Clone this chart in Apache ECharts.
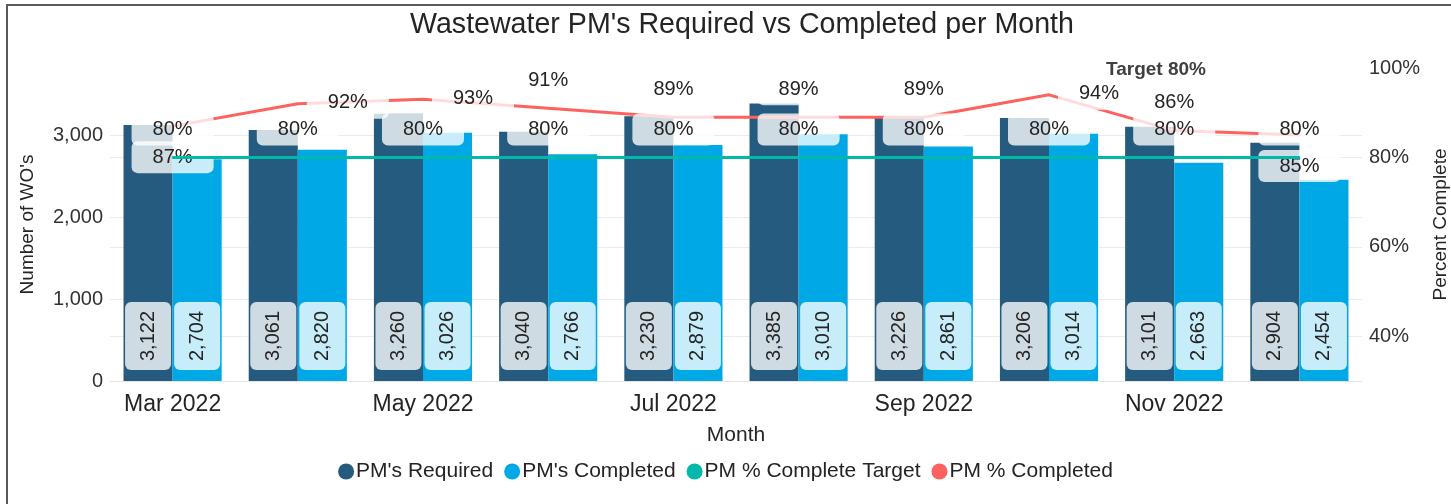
<!DOCTYPE html>
<html>
<head>
<meta charset="utf-8">
<title>Wastewater PM's Required vs Completed per Month</title>
<script src="https://cdn.jsdelivr.net/npm/echarts@6/dist/echarts.min.js"></script>
<style>
  html, body { margin: 0; padding: 0; background: #fff; }
  #frame {
    position: absolute;
    left: 6px; top: 4px;
    width: 1445px; height: 500px;
    border-top: 2px solid #5a5a5a;
    border-left: 2px solid #5a5a5a;
  }
  #chart { position: absolute; left: 0; top: 0; width: 1451px; height: 504px; }
</style>
</head>
<body>
<div id="frame"></div>
<div id="chart"></div>
<script>
// 数据
const months = ['Mar 2022', 'Apr 2022', 'May 2022', 'Jun 2022', 'Jul 2022',
  'Aug 2022', 'Sep 2022', 'Oct 2022', 'Nov 2022', 'Dec 2022']
const pmRequired = [3122, 3061, 3260, 3040, 3230, 3385, 3226, 3206, 3101, 2904]
const pmCompleted = [2704, 2820, 3026, 2766, 2879, 3010, 2861, 3014, 2663, 2454]
const pctTarget = [80, 80, 80, 80, 80, 80, 80, 80, 80, 80]
const pctCompleted = [87, 92, 93, 91, 89, 89, 89, 94, 86, 85]

const FONT = '"Liberation Sans", Arial, sans-serif'
const TEXT = '#252423'
const GRID = '#ebebeb'
const NONE = 'rgba(0,0,0,0)'

// 标签框样式
const boxLabel = {
  show: true,
  fontFamily: FONT,
  fontSize: 20,
  color: TEXT,
  backgroundColor: 'rgba(255,255,255,0.78)',
  borderRadius: 6,
  padding: [6, 21],
  position: 'top',
  distance: 11,
  formatter: (p) => p.value + '%'
}

const barLabel = {
  show: true,
  position: 'insideBottom',
  distance: 11,
  rotate: 90,
  align: 'left',
  verticalAlign: 'middle',
  fontFamily: FONT,
  fontSize: 20,
  color: TEXT,
  backgroundColor: 'rgba(255,255,255,0.78)',
  borderRadius: 6,
  padding: [13, 9],
  formatter: (p) => p.value.toLocaleString('en-US')
}

// 红线标签的位置微调（避让）
const shiftRight = { offset: [50, 27] }
const below = { position: 'bottom', distance: 14 }
const redLabelTweak = { 0: below, 1: shiftRight, 2: shiftRight, 7: shiftRight, 9: below }

const redData = pctCompleted.map((v, i) => {
  const t = redLabelTweak[i]
  return t ? { value: v, label: t } : v
})

const chart = echarts.init(document.getElementById('chart'), null, { renderer: 'canvas' })

chart.setOption({
  animation: false,
  title: {
    text: "Wastewater PM's Required vs Completed per Month",
    left: 405,
    top: 6,
    textStyle: { fontFamily: FONT, fontSize: 28.6, fontWeight: 'normal', color: TEXT }
  },
  legend: {
    bottom: 17,
    left: 'center',
    icon: 'circle',
    itemWidth: 16,
    itemHeight: 16,
    itemGap: 11,
    textStyle: { fontFamily: FONT, fontSize: 21, color: TEXT, padding: [0, 0, 0, -3] },
    data: ["PM's Required", "PM's Completed", 'PM % Complete Target', 'PM % Completed']
  },
  graphic: [{
    type: 'text',
    left: 1106,
    top: 60,
    style: { text: 'Target 80%', font: 'bold 19px ' + FONT, fill: '#404040' }
  }],
  grid: { left: 110, right: 89, top: 68, bottom: 123, outerBoundsMode: 'none' },
  xAxis: {
    type: 'category',
    data: months,
    name: 'Month',
    nameLocation: 'middle',
    nameGap: 44,
    nameTextStyle: { fontFamily: FONT, fontSize: 21, color: TEXT },
    axisTick: { show: false },
    axisLine: { lineStyle: { color: '#e4e4e4' } },
    axisLabel: { interval: 1, margin: 12, fontFamily: FONT, fontSize: 23, color: TEXT }
  },
  yAxis: [
    {
      type: 'value',
      min: 0,
      max: 3817,
      interval: 1000,
      name: "Number of WO's",
      nameLocation: 'middle',
      nameRotate: 90,
      nameGap: 73,
      nameTextStyle: { fontFamily: FONT, fontSize: 19, color: TEXT },
      axisLabel: {
        showMaxLabel: false,
        margin: 7,
        fontFamily: FONT,
        fontSize: 20,
        color: '#333',
        formatter: (v) => v.toLocaleString('en-US')
      },
      splitLine: { lineStyle: { color: [GRID, GRID, GRID, GRID, NONE] } }
    },
    {
      type: 'value',
      min: 30,
      max: 100,
      interval: 10,
      name: 'Percent Complete',
      nameLocation: 'middle',
      nameRotate: 90,
      nameGap: 69,
      nameTextStyle: { fontFamily: FONT, fontSize: 19, color: TEXT },
      axisLabel: {
        margin: 7,
        fontFamily: FONT,
        fontSize: 20,
        color: '#333',
        formatter: (v) => (v % 20 === 0 ? v + '%' : '')
      },
      splitLine: { show: true, lineStyle: { color: [NONE, GRID, NONE, GRID, NONE, GRID, NONE, NONE] } }
    }
  ],
  series: [
    {
      name: "PM's Required",
      type: 'bar',
      z: 2,
      barGap: '0%',
      barCategoryGap: '21.6%',
      data: pmRequired,
      itemStyle: { color: '#245b7e' },
      label: barLabel
    },
    {
      name: "PM's Completed",
      type: 'bar',
      z: 2,
      data: pmCompleted,
      itemStyle: { color: '#00a9e6' },
      label: barLabel
    },
    {
      name: 'PM % Completed',
      type: 'line',
      yAxisIndex: 1,
      z: 3,
      data: redData,
      symbol: 'circle',
      symbolSize: 2,
      itemStyle: { color: '#fd625e' },
      lineStyle: { color: '#fd625e', width: 3 },
      label: boxLabel
    },
    {
      name: 'PM % Complete Target',
      type: 'line',
      yAxisIndex: 1,
      z: 4,
      data: pctTarget,
      symbol: 'circle',
      symbolSize: 2,
      itemStyle: { color: '#01b8aa' },
      lineStyle: { color: '#01b8aa', width: 3 },
      label: boxLabel
    }
  ]
})

window.addEventListener('resize', () => chart.resize())
</script>
</body>
</html>
